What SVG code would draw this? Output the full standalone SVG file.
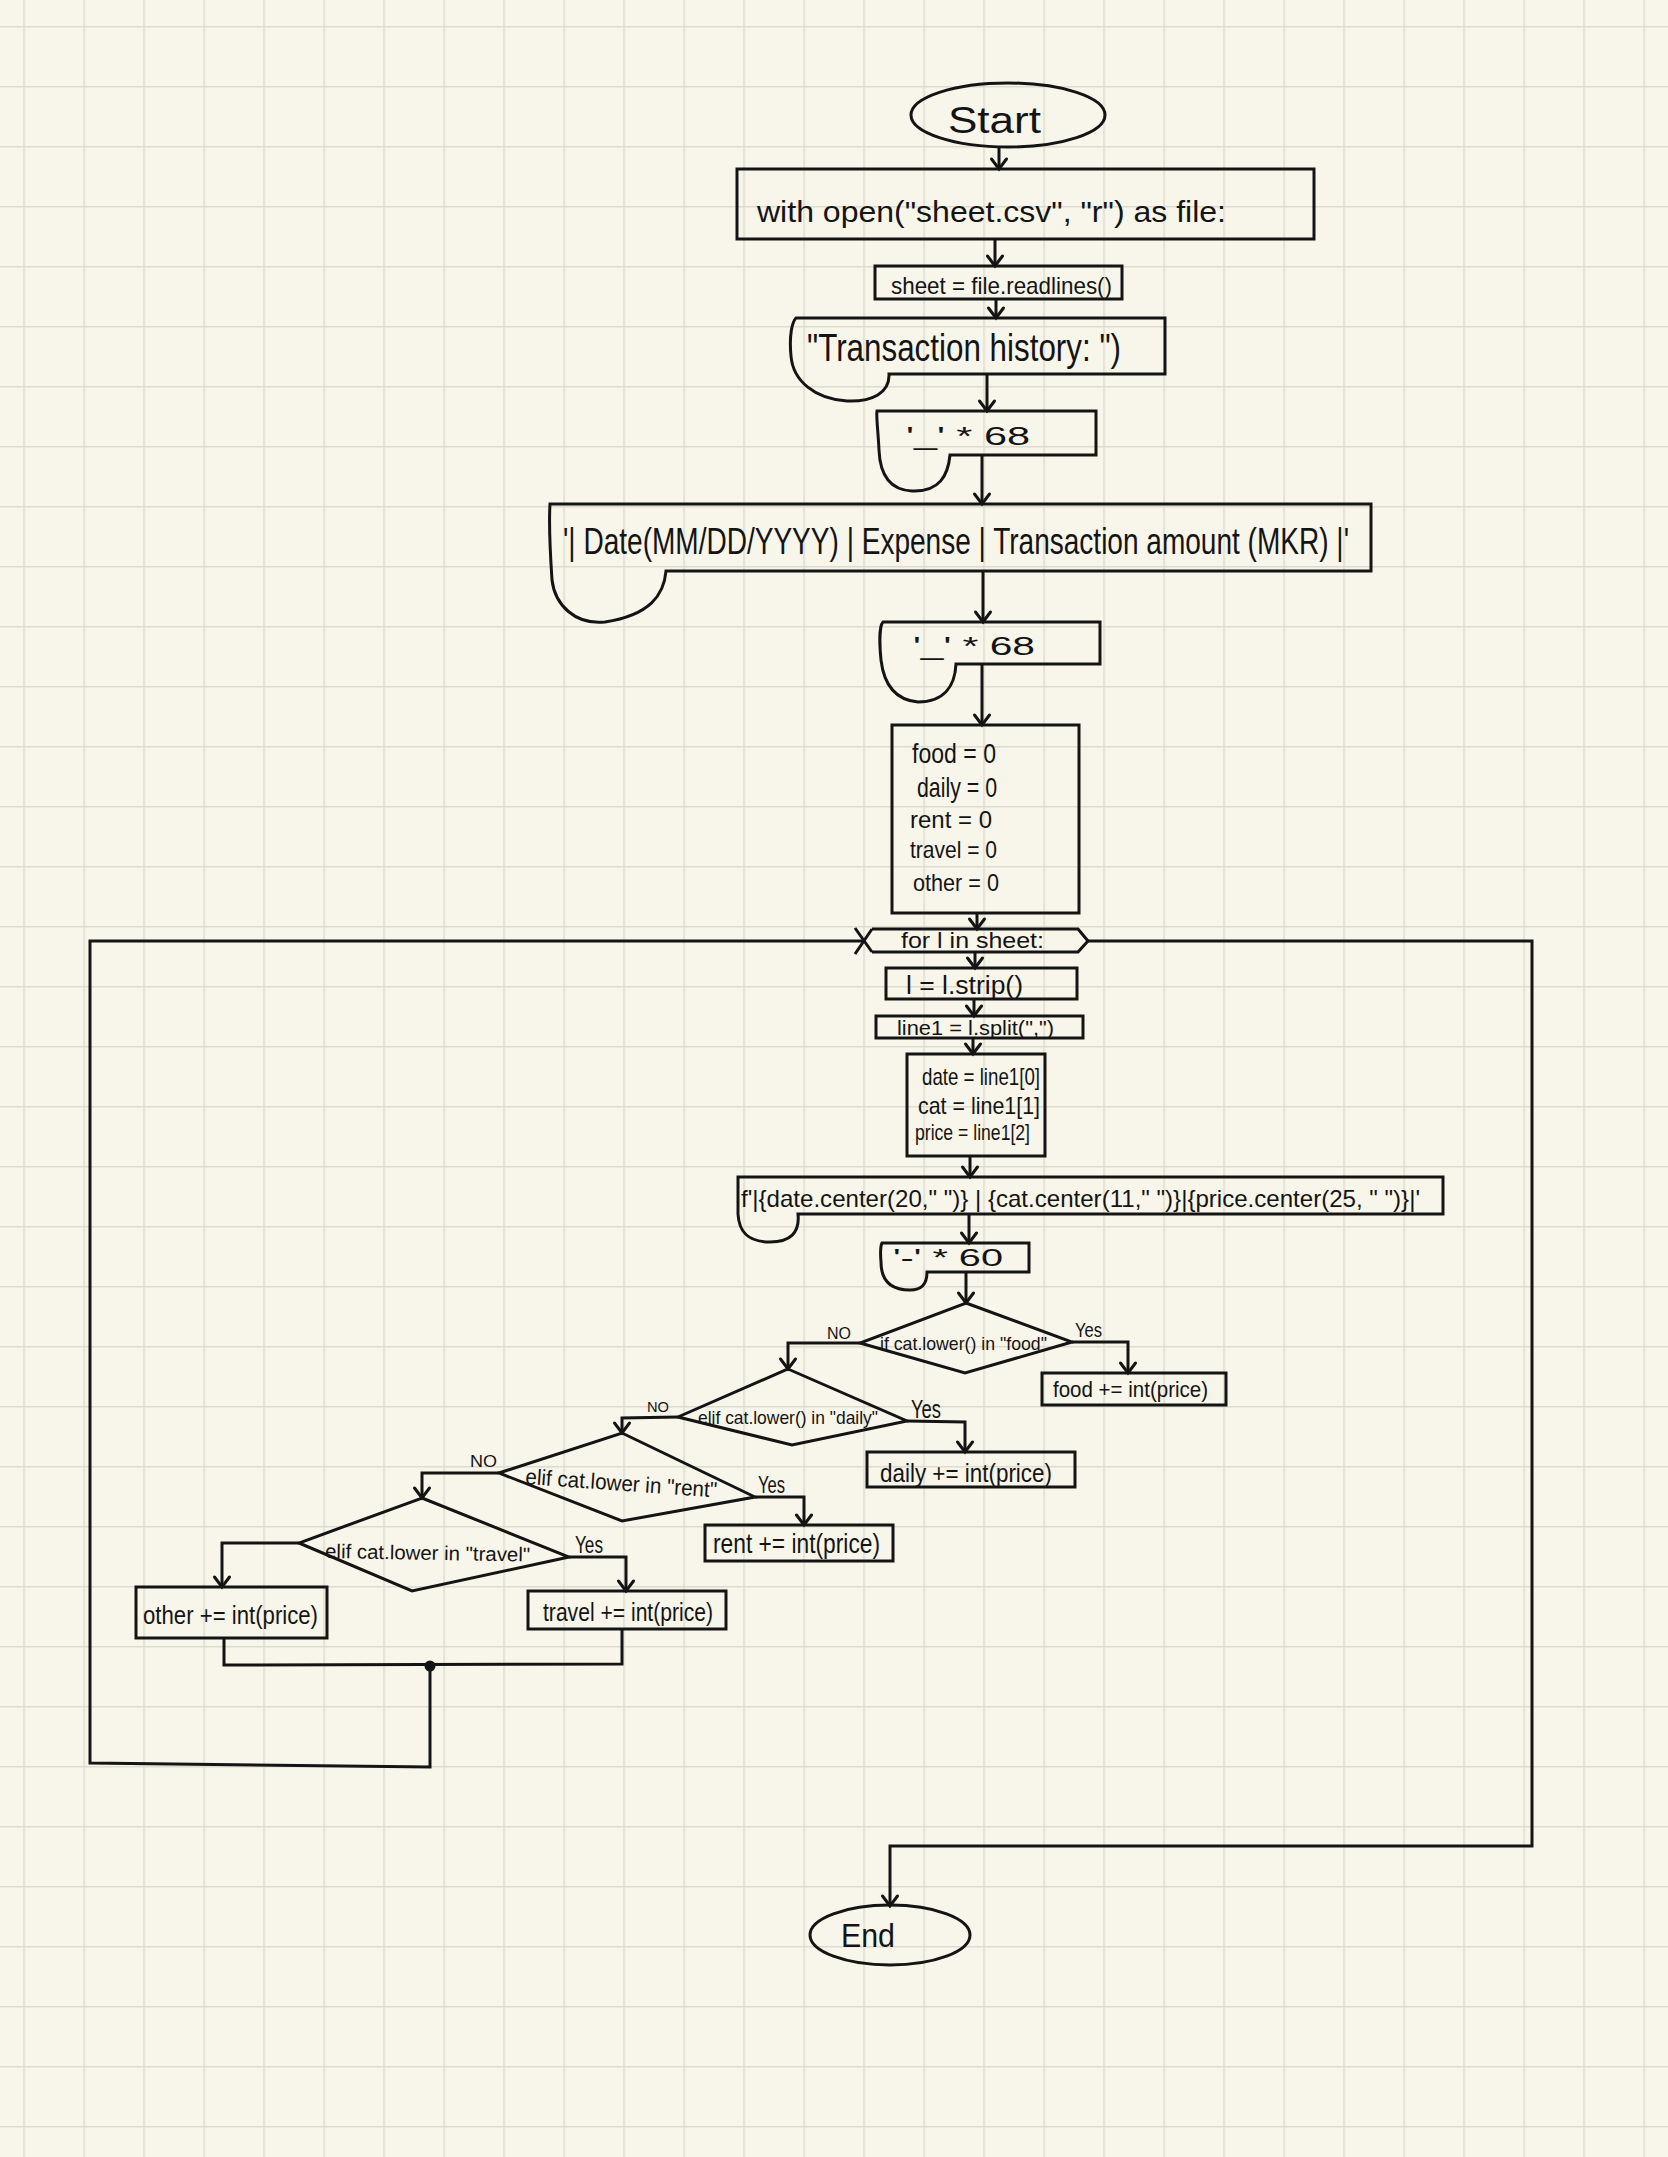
<svg xmlns="http://www.w3.org/2000/svg" width="1668" height="2157" viewBox="0 0 1668 2157">
  <defs>
    <pattern id="grid" x="23.3" y="26" width="60" height="60" patternUnits="userSpaceOnUse">
      <rect x="0" y="0" width="1.5" height="60" fill="#dedbcf"/>
      <rect x="0" y="0" width="60" height="1.5" fill="#dedbcf"/>
    </pattern>
    <marker id="ah" markerUnits="userSpaceOnUse" viewBox="-13 -10 16 20" markerWidth="16" markerHeight="20" refX="0" refY="0" orient="auto" overflow="visible">
      <path d="M -10 -7.5 L 0 0 L -10 7.5" fill="none" stroke="#141414" stroke-width="3" stroke-linejoin="miter" stroke-linecap="round"/>
    </marker>
    <style>
      .shape { fill: none; stroke: #141414; stroke-width: 3; stroke-linejoin: miter; }
      .ln { fill: none; stroke: #141414; stroke-width: 3; stroke-linejoin: miter; }
      .arr { marker-end: url(#ah); }
      text { font-family: "Liberation Sans", Arial, sans-serif; fill: #141414; }
    </style>
  </defs>

  <!-- paper -->
  <rect x="0" y="0" width="1668" height="2157" fill="#f8f6ea"/>
  <rect x="0" y="0" width="1668" height="2157" fill="url(#grid)"/>

  <!-- connectors -->
  <g id="connectors">
    <line class="ln arr" x1="999" y1="147" x2="999" y2="169"/>
    <line class="ln arr" x1="995" y1="239" x2="995" y2="266"/>
    <line class="ln arr" x1="996" y1="299" x2="996" y2="318"/>
    <line class="ln arr" x1="987" y1="374" x2="987" y2="411"/>
    <line class="ln arr" x1="982" y1="455" x2="982" y2="504"/>
    <line class="ln arr" x1="983" y1="571" x2="983" y2="622"/>
    <line class="ln arr" x1="982" y1="664" x2="982" y2="725"/>
    <line class="ln arr" x1="977" y1="913" x2="977" y2="929"/>
    <line class="ln arr" x1="975" y1="952" x2="975" y2="968"/>
    <line class="ln arr" x1="974" y1="999" x2="974" y2="1016"/>
    <line class="ln arr" x1="973" y1="1038" x2="973" y2="1054"/>
    <line class="ln arr" x1="970" y1="1156" x2="970" y2="1177"/>
    <line class="ln arr" x1="969" y1="1214" x2="969" y2="1243"/>
    <line class="ln arr" x1="966" y1="1272" x2="966" y2="1303"/>
    <!-- decision branches -->
    <polyline class="ln arr" points="1072,1342 1128,1342 1128,1373"/>
    <polyline class="ln arr" points="860,1343 788,1343 788,1369"/>
    <polyline class="ln arr" points="907,1421 965,1422 965,1452"/>
    <polyline class="ln arr" points="678,1417 622,1418 622,1433"/>
    <polyline class="ln arr" points="755,1497 804,1497 804,1525"/>
    <polyline class="ln arr" points="499,1473 422,1473 422,1498"/>
    <polyline class="ln arr" points="569,1557 626,1557 626,1591"/>
    <polyline class="ln arr" points="299,1543 222,1543 222,1587"/>
    <!-- merge and loop back -->
    <polyline class="ln" points="224,1638 224,1665 622,1664 622,1629"/>
    <circle cx="430" cy="1666" r="5.5" fill="#141414"/>
    <polyline class="ln" points="430,1666 430,1767 90,1763 90,941 863,941"/>
    <!-- loop exit -->
    <polyline class="ln arr" points="1088,941 1532,941 1532,1846 890,1846 890,1906"/>
  </g>

  <g id="start">
    <ellipse class="shape" cx="1008" cy="115" rx="97" ry="32"/>
    <text x="948" y="133" font-size="36" textLength="93" lengthAdjust="spacingAndGlyphs">Start</text>
  </g>

  <g id="open-file">
    <rect class="shape" x="737" y="169" width="577" height="70"/>
    <text x="757" y="222" font-size="30" textLength="469" lengthAdjust="spacingAndGlyphs">with  open("sheet.csv", "r") as file:</text>
  </g>

  <g id="readlines">
    <rect class="shape" x="875" y="266" width="247" height="33"/>
    <text x="891" y="294" font-size="24" textLength="221" lengthAdjust="spacingAndGlyphs">sheet = file.readlines()</text>
  </g>

  <g id="print-title">
    <path class="shape" d="M 796 318 L 1165 318 L 1165 374 L 889 374 C 890 393, 872 402, 847 401 C 815 399, 793 381, 791 356 C 789 336, 792 322, 796 318 Z"/>
    <text x="807" y="361" font-size="38" textLength="314" lengthAdjust="spacingAndGlyphs">"Transaction history:  ")</text>
  </g>

  <g id="print-rule-1">
    <path class="shape" d="M 877 411 L 1096 411 L 1096 455 L 950 455 C 948 475, 940 492, 912 491 C 890 490, 880 475, 879 450 C 878 430, 876 415, 877 411 Z"/>
    <text x="906" y="445" font-size="26" textLength="124" lengthAdjust="spacingAndGlyphs">'_'  *  68</text>
  </g>

  <g id="print-header">
    <path class="shape" d="M 550 504 L 1371 504 L 1371 571 L 666 571 C 664 595, 650 615, 605 622 C 575 625, 555 605, 552 580 C 550 550, 549 520, 550 504 Z"/>
    <text x="563" y="554" font-size="37" textLength="786" lengthAdjust="spacingAndGlyphs">'| Date(MM/DD/YYYY) | Expense | Transaction amount (MKR) |'</text>
  </g>

  <g id="print-rule-2">
    <path class="shape" d="M 883 622 L 1100 622 L 1100 664 L 956 664 C 955 685, 945 702, 918 702 C 895 700, 884 685, 881 660 C 879 640, 880 625, 883 622 Z"/>
    <text x="913" y="655" font-size="26" textLength="122" lengthAdjust="spacingAndGlyphs">'_'  *  68</text>
  </g>

  <g id="init-totals">
    <rect class="shape" x="892" y="725" width="187" height="188"/>
    <text x="912" y="763" font-size="28" textLength="84" lengthAdjust="spacingAndGlyphs">food = 0</text>
    <text x="917" y="797" font-size="28" textLength="80" lengthAdjust="spacingAndGlyphs">daily = 0</text>
    <text x="910" y="828" font-size="24" textLength="82" lengthAdjust="spacingAndGlyphs">rent = 0</text>
    <text x="910" y="858" font-size="24" textLength="87" lengthAdjust="spacingAndGlyphs">travel = 0</text>
    <text x="913" y="891" font-size="24" textLength="86" lengthAdjust="spacingAndGlyphs">other = 0</text>
  </g>

  <g id="for-loop">
    <path class="shape" d="M 872 929 L 1078 929 L 1088 941 L 1078 952 L 872 952 M 872 929 L 855 954 M 872 952 L 855 928"/>
    <text x="901" y="948" font-size="22" textLength="143" lengthAdjust="spacingAndGlyphs">for l in sheet:</text>
  </g>

  <g id="strip">
    <rect class="shape" x="886" y="968" width="191" height="31"/>
    <text x="906" y="994" font-size="26" textLength="117" lengthAdjust="spacingAndGlyphs">l = l.strip()</text>
  </g>

  <g id="split">
    <rect class="shape" x="876" y="1016" width="207" height="22"/>
    <text x="897" y="1035" font-size="20" textLength="157" lengthAdjust="spacingAndGlyphs">line1 = l.split(",")</text>
  </g>

  <g id="unpack">
    <rect class="shape" x="907" y="1054" width="138" height="102"/>
    <text x="922" y="1085" font-size="24" textLength="118" lengthAdjust="spacingAndGlyphs">date = line1[0]</text>
    <text x="918" y="1114" font-size="24" textLength="122" lengthAdjust="spacingAndGlyphs">cat = line1[1]</text>
    <text x="915" y="1140" font-size="22" textLength="115" lengthAdjust="spacingAndGlyphs">price = line1[2]</text>
  </g>

  <g id="print-row">
    <path class="shape" d="M 738 1177 L 1443 1177 L 1443 1214 L 798 1214 C 800 1233, 790 1242, 770 1242 C 748 1242, 739 1232, 738 1214 Z"/>
    <text x="741" y="1207" font-size="24" textLength="679" lengthAdjust="spacingAndGlyphs">f'|{date.center(20," ")} | {cat.center(11," ")}|{price.center(25, " ")}|'</text>
  </g>

  <g id="print-rule-3">
    <path class="shape" d="M 882 1243 L 1029 1243 L 1029 1272 L 927 1272 C 927 1284, 922 1290, 910 1290 C 890 1290, 881 1280, 881 1262 C 880 1250, 881 1245, 882 1243 Z"/>
    <text x="893" y="1266" font-size="24" textLength="110" lengthAdjust="spacingAndGlyphs">'-'  *  60</text>
  </g>

  <g id="if-food">
    <polygon class="shape" points="966,1303 1072,1342 965,1373 860,1343"/>
    <text x="880" y="1350" font-size="19" textLength="167" lengthAdjust="spacingAndGlyphs">if cat.lower() in "food"</text>
    <text x="827" y="1339" font-size="17" textLength="24" lengthAdjust="spacingAndGlyphs">NO</text>
    <text x="1075" y="1337" font-size="21" textLength="27" lengthAdjust="spacingAndGlyphs">Yes</text>
  </g>

  <g id="add-food">
    <rect class="shape" x="1042" y="1373" width="184" height="32"/>
    <text x="1053" y="1397" font-size="22" textLength="155" lengthAdjust="spacingAndGlyphs">food += int(price)</text>
  </g>

  <g id="elif-daily">
    <polygon class="shape" points="788,1369 907,1421 792,1445 678,1417"/>
    <text x="698" y="1424" font-size="19" textLength="180" lengthAdjust="spacingAndGlyphs">elif cat.lower() in "daily"</text>
    <text x="647" y="1412" font-size="15" textLength="22" lengthAdjust="spacingAndGlyphs">NO</text>
    <text x="911" y="1418" font-size="26" textLength="30" lengthAdjust="spacingAndGlyphs">Yes</text>
  </g>

  <g id="add-daily">
    <rect class="shape" x="867" y="1452" width="208" height="35"/>
    <text x="880" y="1482" font-size="26" textLength="172" lengthAdjust="spacingAndGlyphs">daily += int(price)</text>
  </g>

  <g id="elif-rent">
    <polygon class="shape" points="622,1433 755,1497 622,1521 499,1473"/>
    <text x="525" y="1484" font-size="22" textLength="192" lengthAdjust="spacingAndGlyphs" transform="rotate(4 525 1484)">elif cat.lower in "rent"</text>
    <text x="470" y="1467" font-size="17" textLength="27" lengthAdjust="spacingAndGlyphs">NO</text>
    <text x="758" y="1493" font-size="23" textLength="27" lengthAdjust="spacingAndGlyphs">Yes</text>
  </g>

  <g id="add-rent">
    <rect class="shape" x="705" y="1525" width="188" height="36"/>
    <text x="713" y="1553" font-size="28" textLength="167" lengthAdjust="spacingAndGlyphs">rent += int(price)</text>
  </g>

  <g id="elif-travel">
    <polygon class="shape" points="422,1498 569,1557 412,1591 299,1543"/>
    <text x="325" y="1558" font-size="20" textLength="205" lengthAdjust="spacingAndGlyphs" transform="rotate(1 325 1558)">elif cat.lower in "travel"</text>
    <text x="575" y="1553" font-size="23" textLength="28" lengthAdjust="spacingAndGlyphs">Yes</text>
  </g>

  <g id="add-travel">
    <rect class="shape" x="528" y="1591" width="198" height="38"/>
    <text x="543" y="1621" font-size="25" textLength="170" lengthAdjust="spacingAndGlyphs">travel += int(price)</text>
  </g>

  <g id="add-other">
    <rect class="shape" x="136" y="1587" width="191" height="51"/>
    <text x="143" y="1624" font-size="25" textLength="175" lengthAdjust="spacingAndGlyphs">other += int(price)</text>
  </g>

  <g id="end">
    <ellipse class="shape" cx="890" cy="1935" rx="80" ry="30"/>
    <text x="841" y="1947" font-size="34" textLength="54" lengthAdjust="spacingAndGlyphs">End</text>
  </g>
</svg>
